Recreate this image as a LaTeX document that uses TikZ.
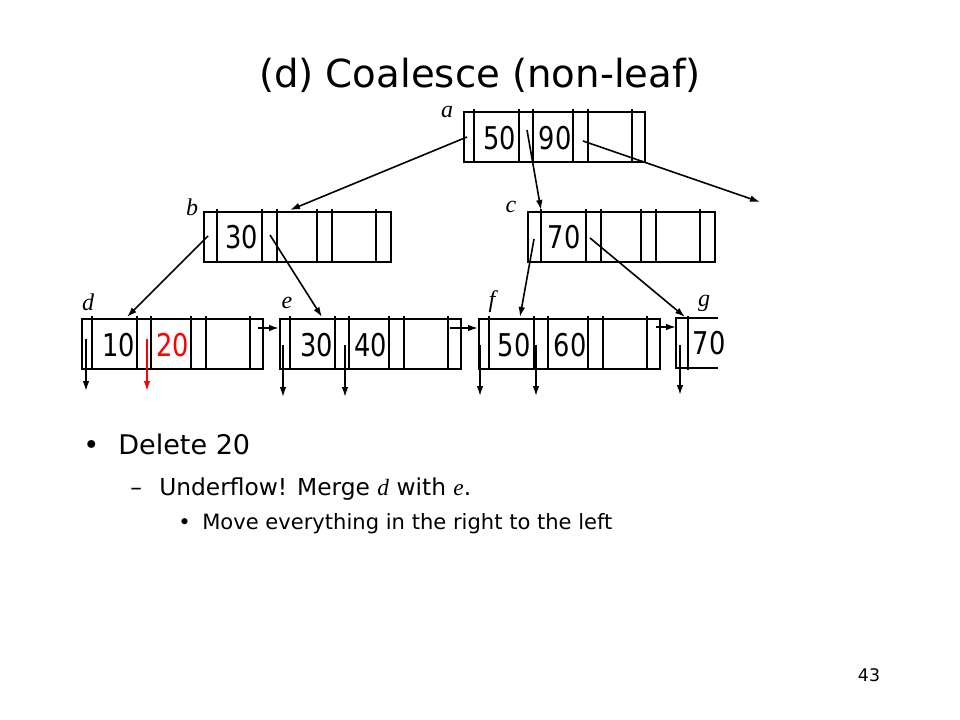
\documentclass[tikz,border=0pt]{standalone}
\usepackage{fontspec}
\setmainfont{DejaVu Sans}
\newfontfamily\tms{Liberation Serif}
\usepackage{graphicx}
\usetikzlibrary{arrows.meta,calc}

\tikzset{
  nbox/.style={draw,line width=1.5pt,inner sep=0pt,anchor=north west,minimum width=135.75pt,minimum height=37.5pt},
  wbox/.style={nbox,minimum width=140.25pt},
  bar/.style={line width=1.5pt},
  ptr/.style={line width=1.2pt,-{Latex[length=7.5pt,width=5pt]}},
  key/.style={inner sep=0pt,anchor=base,font=\fontsize{23.5}{26}\selectfont},
  lbl/.style={inner sep=0pt,font=\fontsize{18}{20}\selectfont\tms\itshape},
  txt/.style={inner sep=0pt,anchor=base west},
}
\newcommand{\narrow}[1]{\scalebox{0.82}[1]{#1}}

\begin{document}
\begin{tikzpicture}[x=0.75pt,y=-0.75pt]
\useasboundingbox (0,0) rectangle (960,720);
\node[inner sep=0pt,anchor=base,font=\fontsize{29}{34}\selectfont] (title) at (480,88) {(d) Coalesce (non-leaf)};
% the nodes
\node[nbox] (na) at (463,111) {};
\node[wbox] (nb) at (203,211) {};
\node[wbox] (nc) at (527,211) {};
\node[nbox] (nd) at (81,318) {};
\node[nbox] (ne) at (279,318) {};
\node[nbox] (nf) at (478,318) {};
\coordinate (ng) at (676,318);
\foreach \n in {na,nd,ne,nf}
  \foreach \o in {11,56,70,110,125,169}
    \draw[bar] ($(\n.north west)+(\o,-2)$) -- ($(\n.south west)+(\o,-1)$);
\foreach \n in {nb,nc}
  \foreach \o in {14,59,74,114,129,173}
    \draw[bar] ($(\n.north west)+(\o,-2)$) -- ($(\n.south west)+(\o,-1)$);
\draw[bar] ($(ng)+(42,0)$) -- (ng) -- ($(ng)+(0,50)$) -- ($(ng)+(42,50)$);
\draw[bar] ($(ng)+(12,-2)$) -- ($(ng)+(12,52)$);
% keys
\node[key] (ka1) at (500,150) {\narrow{50}};
\node[key] (ka2) at (555,150) {\narrow{90}};
\node[key] (kb1) at (242,249) {\narrow{30}};
\node[key] (kc1) at (564,249) {\narrow{70}};
\node[key] (kd1) at (119,356) {\narrow{10}};
\node[key,text=red] (kd2) at (173,356) {\narrow{20}};
\node[key] (ke1) at (317,356) {\narrow{30}};
\node[key] (ke2) at (371,356) {\narrow{40}};
\node[key] (kf1) at (514,356) {\narrow{50}};
\node[key] (kf2) at (570,356) {\narrow{60}};
\node[key] (kg1) at (709,354) {\narrow{70}};
% labels
\node[lbl] (la) at (447,112) {a};
\node[lbl] (lb) at (192,207) {b};
\node[lbl] (lc) at (511,207) {c};
\node[lbl] (ld) at (88,302) {d};
\node[lbl] (le) at (287,303) {e};
\node[lbl] (lf) at (492,302) {f};
\node[lbl] (lg) at (704,303) {g};
% pointers
\coordinate (aout) at (760,202);
\draw[ptr] ($(na.north west)+(4,26)$) -- ($(nb.north west)+(87,-1)$);
\draw[ptr] ($(na.north west)+(64,19)$) -- ($(nc.north west)+(14,-1)$);
\draw[ptr] ($(na.north west)+(120,30)$) -- (aout);
\draw[ptr] ($(nb.north west)+(5,25)$) -- ($(nd.north west)+(46,-1)$);
\draw[ptr] ($(nb.north west)+(67,24)$) -- ($(ne.north west)+(43,-1)$);
\draw[ptr] ($(nc.north west)+(7,28)$) -- ($(nf.north west)+(42,-1)$);
\draw[ptr] ($(nc.north west)+(63,27)$) -- ($(ng)+(9,-1)$);
\draw[ptr] ($(nd.north west)+(177,10)$) -- ($(ne.north west)+(0,10)$);
\draw[ptr] ($(ne.north west)+(171,10)$) -- ($(nf.north west)+(0,10)$);
\draw[ptr] ($(nf.north west)+(178,9)$) -- ($(ng)+(0,9)$);
\draw[ptr] ($(nd.north west)+(5,21)$) -- ($(nd.north west)+(5,73)$);
\draw[ptr,red] ($(nd.north west)+(66,21)$) -- ($(nd.north west)+(66,73)$);
\draw[ptr] ($(ne.north west)+(4,27)$) -- ($(ne.north west)+(4,79)$);
\draw[ptr] ($(ne.north west)+(66,27)$) -- ($(ne.north west)+(66,79)$);
\draw[ptr] ($(nf.north west)+(2,27)$) -- ($(nf.north west)+(2,78)$);
\draw[ptr] ($(nf.north west)+(58,27)$) -- ($(nf.north west)+(58,78)$);
\draw[ptr] ($(ng)+(4,27)$) -- ($(ng)+(4,77)$);
% text
\node[txt,font=\fontsize{20.3}{24}\selectfont] (u1) at (83,454) {•};
\node[txt,font=\fontsize{20.3}{24}\selectfont] (t1) at (118,454) {Delete 20};
\node[txt,font=\fontsize{17.5}{20}\selectfont] (u2) at (130,495) {–};
\node[txt,font=\fontsize{17.5}{20}\selectfont] (t2) at (159,495) {Underflow! Merge {\tms\itshape d} with {\tms\itshape e}.};
\node[txt,font=\fontsize{15.8}{19}\selectfont] (u3) at (178,529) {•};
\node[txt,font=\fontsize{15.8}{19}\selectfont] (t3) at (202,529) {Move everything in the right to the left};
\node[inner sep=0pt,anchor=base,font=\fontsize{13}{15}\selectfont] (pg) at (869,681) {43};
\end{tikzpicture}
\end{document}
